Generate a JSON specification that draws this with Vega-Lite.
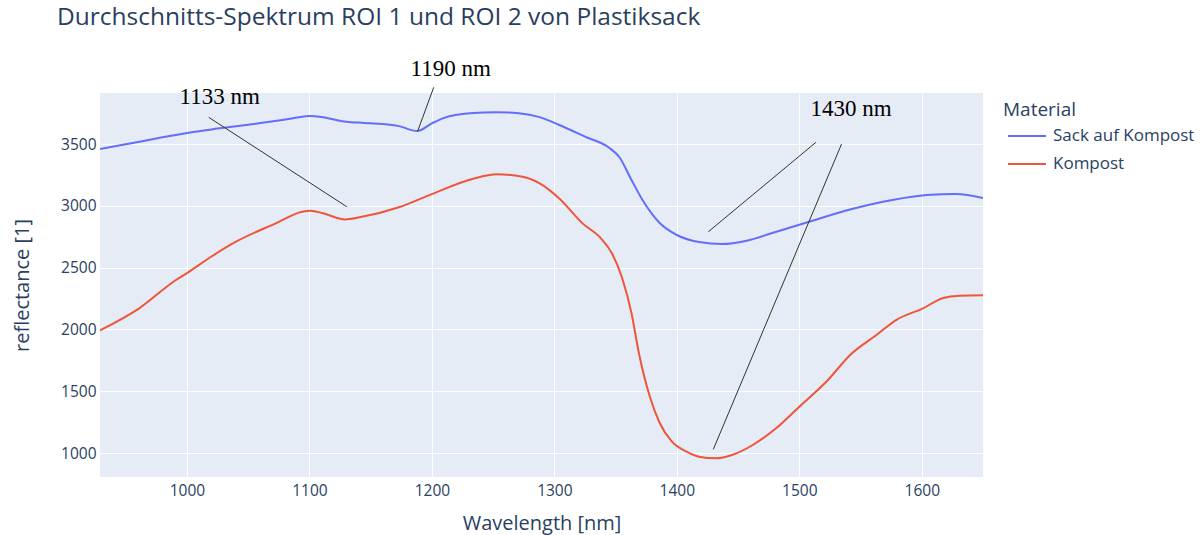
{
  "$schema": "https://vega.github.io/schema/vega-lite/v6.json",
  "width": 883,
  "height": 384,
  "autosize": {"type": "none"},
  "padding": {"left": 100, "top": 93, "right": 218, "bottom": 58},
  "background": "white",
  "title": {
    "text": "Durchschnitts-Spektrum ROI 1 und ROI 2 von Plastiksack",
    "anchor": "start",
    "frame": "group",
    "dx": -43,
    "offset": 28,
    "font": "Open Sans",
    "fontSize": 24.5,
    "fontWeight": "normal",
    "color": "#2a3f5f"
  },
  "datasets": {
    "spectra": [
      {"wl": 929, "r": 3460, "m": "Sack auf Kompost"},
      {"wl": 950, "r": 3498, "m": "Sack auf Kompost"},
      {"wl": 975, "r": 3545, "m": "Sack auf Kompost"},
      {"wl": 1000, "r": 3590, "m": "Sack auf Kompost"},
      {"wl": 1025, "r": 3625, "m": "Sack auf Kompost"},
      {"wl": 1050, "r": 3657, "m": "Sack auf Kompost"},
      {"wl": 1075, "r": 3690, "m": "Sack auf Kompost"},
      {"wl": 1090, "r": 3715, "m": "Sack auf Kompost"},
      {"wl": 1100, "r": 3727, "m": "Sack auf Kompost"},
      {"wl": 1110, "r": 3718, "m": "Sack auf Kompost"},
      {"wl": 1120, "r": 3698, "m": "Sack auf Kompost"},
      {"wl": 1130, "r": 3680, "m": "Sack auf Kompost"},
      {"wl": 1145, "r": 3671, "m": "Sack auf Kompost"},
      {"wl": 1160, "r": 3662, "m": "Sack auf Kompost"},
      {"wl": 1173, "r": 3645, "m": "Sack auf Kompost"},
      {"wl": 1188, "r": 3605, "m": "Sack auf Kompost"},
      {"wl": 1200, "r": 3668, "m": "Sack auf Kompost"},
      {"wl": 1210, "r": 3712, "m": "Sack auf Kompost"},
      {"wl": 1231, "r": 3750, "m": "Sack auf Kompost"},
      {"wl": 1253, "r": 3758, "m": "Sack auf Kompost"},
      {"wl": 1271, "r": 3750, "m": "Sack auf Kompost"},
      {"wl": 1288, "r": 3718, "m": "Sack auf Kompost"},
      {"wl": 1304, "r": 3654, "m": "Sack auf Kompost"},
      {"wl": 1325, "r": 3560, "m": "Sack auf Kompost"},
      {"wl": 1345, "r": 3468, "m": "Sack auf Kompost"},
      {"wl": 1353, "r": 3395, "m": "Sack auf Kompost"},
      {"wl": 1363, "r": 3209, "m": "Sack auf Kompost"},
      {"wl": 1372, "r": 3047, "m": "Sack auf Kompost"},
      {"wl": 1386, "r": 2861, "m": "Sack auf Kompost"},
      {"wl": 1400, "r": 2764, "m": "Sack auf Kompost"},
      {"wl": 1418, "r": 2707, "m": "Sack auf Kompost"},
      {"wl": 1437, "r": 2691, "m": "Sack auf Kompost"},
      {"wl": 1457, "r": 2718, "m": "Sack auf Kompost"},
      {"wl": 1478, "r": 2780, "m": "Sack auf Kompost"},
      {"wl": 1508, "r": 2871, "m": "Sack auf Kompost"},
      {"wl": 1543, "r": 2974, "m": "Sack auf Kompost"},
      {"wl": 1576, "r": 3047, "m": "Sack auf Kompost"},
      {"wl": 1604, "r": 3087, "m": "Sack auf Kompost"},
      {"wl": 1628, "r": 3096, "m": "Sack auf Kompost"},
      {"wl": 1650, "r": 3063, "m": "Sack auf Kompost"},
      {"wl": 929, "r": 1992, "m": "Kompost"},
      {"wl": 961, "r": 2171, "m": "Kompost"},
      {"wl": 991, "r": 2400, "m": "Kompost"},
      {"wl": 1000, "r": 2456, "m": "Kompost"},
      {"wl": 1020, "r": 2590, "m": "Kompost"},
      {"wl": 1040, "r": 2710, "m": "Kompost"},
      {"wl": 1073, "r": 2860, "m": "Kompost"},
      {"wl": 1094, "r": 2952, "m": "Kompost"},
      {"wl": 1101, "r": 2960, "m": "Kompost"},
      {"wl": 1111, "r": 2940, "m": "Kompost"},
      {"wl": 1129, "r": 2890, "m": "Kompost"},
      {"wl": 1141, "r": 2907, "m": "Kompost"},
      {"wl": 1173, "r": 2988, "m": "Kompost"},
      {"wl": 1198, "r": 3087, "m": "Kompost"},
      {"wl": 1233, "r": 3217, "m": "Kompost"},
      {"wl": 1253, "r": 3255, "m": "Kompost"},
      {"wl": 1274, "r": 3236, "m": "Kompost"},
      {"wl": 1288, "r": 3182, "m": "Kompost"},
      {"wl": 1304, "r": 3060, "m": "Kompost"},
      {"wl": 1323, "r": 2858, "m": "Kompost"},
      {"wl": 1338, "r": 2737, "m": "Kompost"},
      {"wl": 1347, "r": 2616, "m": "Kompost"},
      {"wl": 1355, "r": 2426, "m": "Kompost"},
      {"wl": 1363, "r": 2131, "m": "Kompost"},
      {"wl": 1369, "r": 1809, "m": "Kompost"},
      {"wl": 1378, "r": 1455, "m": "Kompost"},
      {"wl": 1386, "r": 1243, "m": "Kompost"},
      {"wl": 1396, "r": 1092, "m": "Kompost"},
      {"wl": 1408, "r": 1011, "m": "Kompost"},
      {"wl": 1418, "r": 970, "m": "Kompost"},
      {"wl": 1432, "r": 957, "m": "Kompost"},
      {"wl": 1445, "r": 984, "m": "Kompost"},
      {"wl": 1462, "r": 1065, "m": "Kompost"},
      {"wl": 1481, "r": 1200, "m": "Kompost"},
      {"wl": 1500, "r": 1375, "m": "Kompost"},
      {"wl": 1522, "r": 1577, "m": "Kompost"},
      {"wl": 1543, "r": 1807, "m": "Kompost"},
      {"wl": 1563, "r": 1955, "m": "Kompost"},
      {"wl": 1579, "r": 2076, "m": "Kompost"},
      {"wl": 1601, "r": 2171, "m": "Kompost"},
      {"wl": 1617, "r": 2252, "m": "Kompost"},
      {"wl": 1631, "r": 2273, "m": "Kompost"},
      {"wl": 1650, "r": 2277, "m": "Kompost"}
    ],
    "arrows": [
      {"x1": 1017.8, "y1": 3716, "x2": 1130.5, "y2": 2993},
      {"x1": 1201.5, "y1": 3959, "x2": 1188.4, "y2": 3605},
      {"x1": 1513.6, "y1": 3514, "x2": 1425.7, "y2": 2790},
      {"x1": 1534.5, "y1": 3500, "x2": 1429.8, "y2": 1030}
    ],
    "labels": [
      {"x": 1026.7, "y": 3883, "t": "1133 nm"},
      {"x": 1215.3, "y": 4104, "t": "1190 nm"},
      {"x": 1542.2, "y": 3781, "t": "1430 nm"}
    ]
  },
  "layer": [
    {
      "data": {"name": "spectra"},
      "mark": {"type": "line", "strokeWidth": 2, "interpolate": "monotone", "clip": true},
      "encoding": {
        "x": {
          "field": "wl", "type": "quantitative",
          "scale": {"domain": [929, 1650], "nice": false, "zero": false},
          "axis": {"title": "Wavelength [nm]", "values": [1000, 1100, 1200, 1300, 1400, 1500, 1600], "format": "d", "labelPadding": 6, "titlePadding": 15}
        },
        "y": {
          "field": "r", "type": "quantitative",
          "scale": {"domain": [806, 3913], "nice": false, "zero": false},
          "axis": {"title": "reflectance [1]", "values": [1000, 1500, 2000, 2500, 3000, 3500], "format": "d", "labelPadding": 4, "titlePadding": 28}
        },
        "color": {
          "field": "m", "type": "nominal", "sort": ["Sack auf Kompost", "Kompost"],
          "scale": {"domain": ["Sack auf Kompost", "Kompost"], "range": ["#636efa", "#EF553B"]},
          "legend": {"title": "Material"}
        }
      }
    },
    {
      "data": {"name": "arrows"},
      "mark": {"type": "rule", "color": "#2e3626", "strokeWidth": 1, "clip": false},
      "encoding": {
        "x": {"field": "x1", "type": "quantitative"},
        "y": {"field": "y1", "type": "quantitative"},
        "x2": {"field": "x2"},
        "y2": {"field": "y2"}
      }
    },
    {
      "data": {"name": "labels"},
      "mark": {"type": "text", "font": "Liberation Serif", "fontSize": 23, "color": "black", "align": "center", "baseline": "middle", "clip": false},
      "encoding": {
        "x": {"field": "x", "type": "quantitative"},
        "y": {"field": "y", "type": "quantitative"},
        "text": {"field": "t"}
      }
    }
  ],
  "config": {
    "view": {"fill": "#E5ECF6", "stroke": null},
    "axis": {
      "domain": false,
      "ticks": false,
      "gridColor": "white",
      "gridWidth": 1,
      "gridOpacity": 1,
      "labelColor": "#2a3f5f",
      "labelFont": "Open Sans",
      "labelFontSize": 15.5,
      "titleColor": "#2a3f5f",
      "titleFont": "Open Sans",
      "titleFontSize": 20,
      "titleFontWeight": "normal"
    },
    "legend": {
      "orient": "right",
      "offset": 12,
      "padding": 8,
      "titleFont": "Open Sans",
      "titleFontSize": 19,
      "titleFontWeight": "normal",
      "titleColor": "#2a3f5f",
      "titlePadding": -4,
      "labelFont": "Open Sans",
      "labelFontSize": 17,
      "labelColor": "#2a3f5f",
      "labelOffset": 6,
      "symbolType": "stroke",
      "symbolSize": 1444,
      "symbolStrokeWidth": 2,
      "symbolOffset": 4,
      "rowPadding": -8
    }
  }
}
